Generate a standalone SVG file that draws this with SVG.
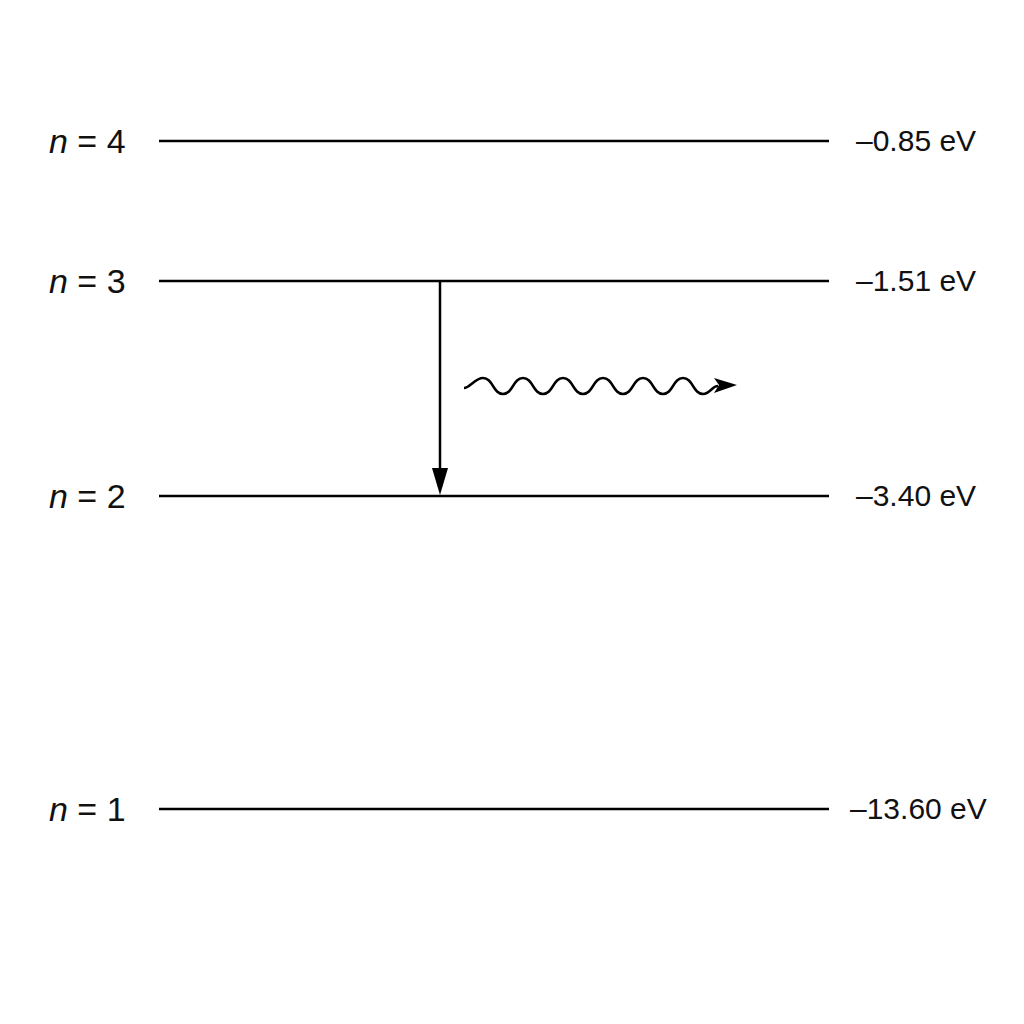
<svg xmlns="http://www.w3.org/2000/svg" width="1024" height="1024" viewBox="0 0 1024 1024">
<style>
.lv{stroke:#000;stroke-width:2.5}
.t{font-family:"Liberation Sans",Arial,sans-serif;font-size:34px;fill:#111}
.e{font-family:"Liberation Sans",Arial,sans-serif;font-size:30px;fill:#111}
</style>
<rect width="1024" height="1024" fill="#fff"/>
<g id="n4"><line class="lv" x1="159" y1="141" x2="829" y2="141"/><text class="t" x="49" y="153"><tspan font-style="italic">n</tspan> = 4</text><text class="e" x="856" y="151">–0.85 eV</text></g>
<g id="n3"><line class="lv" x1="159" y1="281" x2="829" y2="281"/><text class="t" x="49" y="293"><tspan font-style="italic">n</tspan> = 3</text><text class="e" x="856" y="291">–1.51 eV</text></g>
<g id="n2"><line class="lv" x1="159" y1="496" x2="829" y2="496"/><text class="t" x="49" y="508"><tspan font-style="italic">n</tspan> = 2</text><text class="e" x="856" y="506">–3.40 eV</text></g>
<g id="n1"><line class="lv" x1="159" y1="809" x2="829" y2="809"/><text class="t" x="49" y="821"><tspan font-style="italic">n</tspan> = 1</text><text class="e" x="850" y="819">–13.60 eV</text></g>
<g id="connectors">
<line x1="440" y1="281" x2="440" y2="470" stroke="#000" stroke-width="2.5"/>
<path d="M432,468 L448,468 L440,495 z"/>
<path d="M464,388 C470,388 475,378 483,378 C493,378 493,394 503,394 C513,394 513,378 523,378 C533,378 533,394 543,394 C553,394 553,378 563,378 C573,378 573,394 583,394 C593,394 593,378 603,378 C613,378 613,394 623,394 C633,394 633,378 643,378 C653,378 653,394 663,394 C673,394 673,378 683,378 C693,378 693,394 703,394 C710,394 712,386 718,386" fill="none" stroke="#000" stroke-width="2.5"/>
<path d="M714,378 L737,385 L714,393 L719,385 z"/>
</g>
</svg>
